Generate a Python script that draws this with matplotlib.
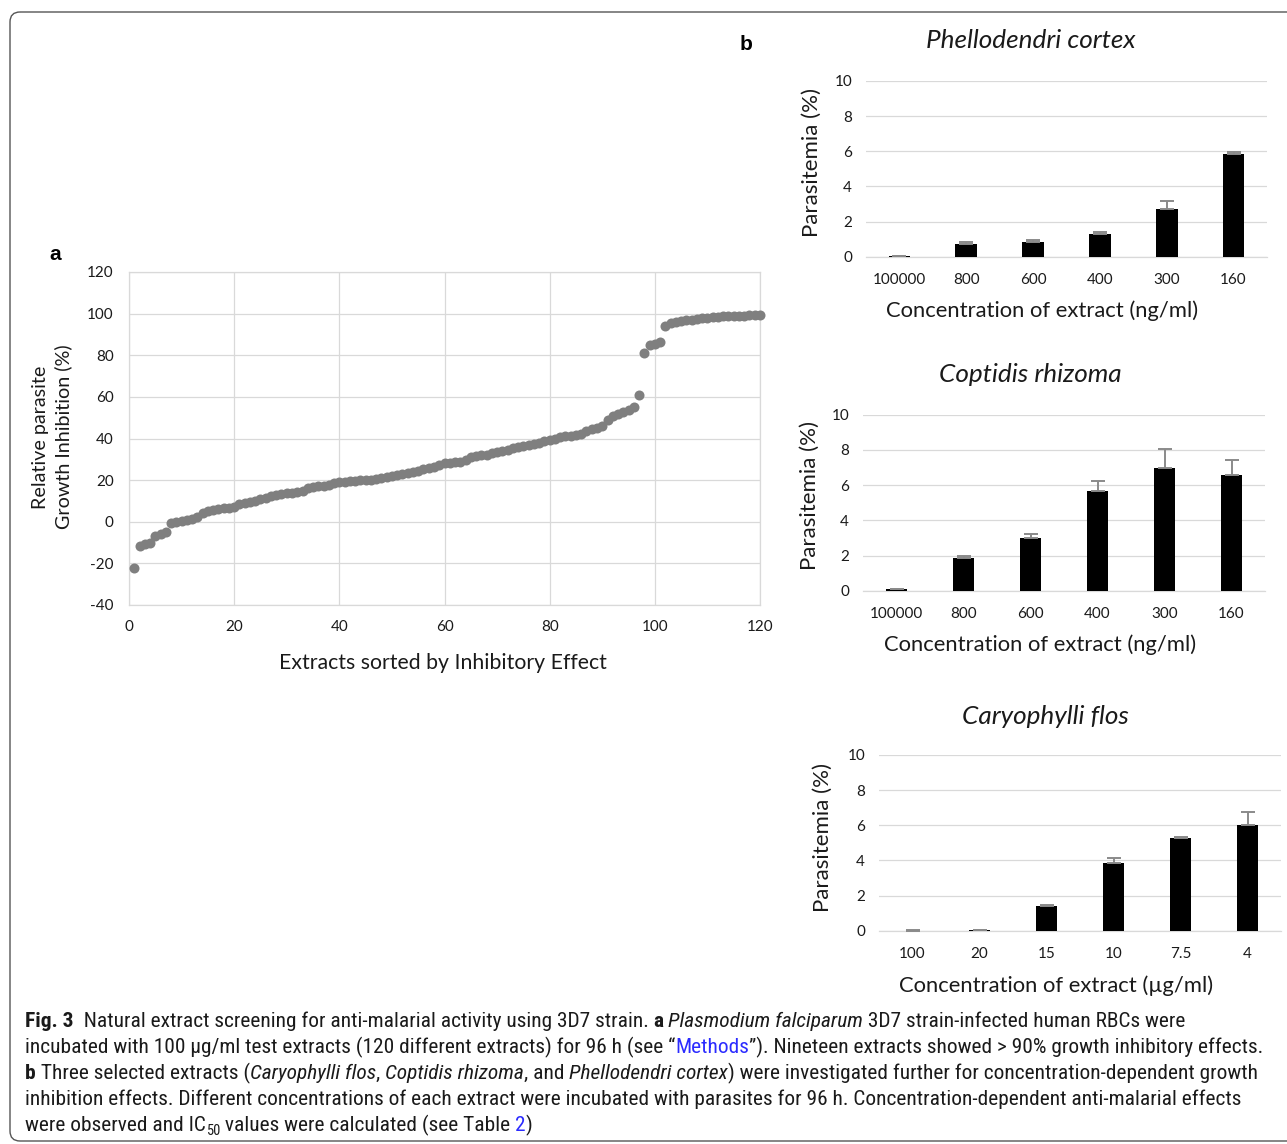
import matplotlib
matplotlib.use('Agg')
import matplotlib.pyplot as plt
from matplotlib.patches import FancyBboxPatch
from matplotlib.transforms import Affine2D
from matplotlib import font_manager
import numpy as np

W, H = 1287, 1144
plt.rcParams['font.family'] = ['Lato', 'DejaVu Sans']
plt.rcParams['axes.unicode_minus'] = False

# ---------------- data ----------------
extract_rank = list(range(1, 121))
inhibition = [
    -22, -11.5, -10.5, -10, -7, -6, -5, -0.5, 0, 0.5,
    1, 1.5, 2.5, 4, 5, 5.5, 6, 6.5, 6.8, 7,
    8.5, 9, 9.5, 10, 11, 11.5, 12.5, 13, 13.5, 13.8,
    14, 14.2, 15, 16, 16.5, 17, 17.3, 17.6, 18.5, 19,
    19.2, 19.5, 19.7, 20, 20.2, 20.3, 20.5, 21, 21.5, 22,
    22.5, 23, 23.2, 23.8, 24.5, 25.5, 26, 26.5, 27.5, 28,
    28.3, 28.5, 28.8, 29.5, 31, 31.5, 32, 32.3, 33, 33.5,
    34, 34.5, 35.5, 36, 36.5, 37, 37.5, 38, 39, 39.5,
    40, 40.5, 41, 41.3, 41.5, 42, 43.5, 44.5, 45, 46,
    49, 51, 52, 52.5, 53.5, 55, 61, 81, 85, 85.5,
    86.5, 94, 95.5, 96, 96.5, 97, 97, 97.5, 98, 98,
    98.5, 98.5, 98.7, 98.8, 98.9, 99, 99, 99.1, 99.2, 99.3,
]

ng_labels = ['100000', '800', '600', '400', '300', '160']
phell_mean = [0.04, 0.72, 0.84, 1.28, 2.71, 5.84]
phell_err = [0.02, 0.10, 0.11, 0.11, 0.48, 0.11]
copt_mean = [0.08, 1.84, 2.97, 5.68, 6.98, 6.58]
copt_err = [0.02, 0.12, 0.23, 0.57, 1.06, 0.86]
ug_labels = ['100', '20', '15', '10', '7.5', '4']
cary_mean = [0.01, 0.04, 1.41, 3.88, 5.28, 6.04]
cary_err = [0.01, 0.02, 0.08, 0.24, 0.08, 0.70]

# ---------------- figure ----------------
fig = plt.figure(figsize=(W / 100, H / 100), dpi=100)
pix = Affine2D().scale(1, -1).translate(0, H)


def px_axes(l, t, r, b):
    return fig.add_axes([l / W, 1 - b / H, (r - l) / W, (b - t) / H])


def ftext(x, y, s, **kw):
    return fig.text(x / W, 1 - y / H, s, **kw)


GRID = '#d9d9d9'
TXT = '#1a1a1a'

# border
frame = FancyBboxPatch((10, 12), 1320, 1129,
                       boxstyle='round,pad=0,rounding_size=10',
                       transform=pix, fill=False, edgecolor='#555555', lw=1.0)
fig.add_artist(frame)

# ---------------- panel a ----------------
ax = px_axes(129, 272, 760, 605)
ax.scatter(extract_rank, inhibition, s=52, color='#7f7f7f', linewidths=0,
           zorder=3, clip_on=False)
ax.set_xlim(0, 120)
ax.set_ylim(-40, 120)
ax.set_xticks(range(0, 121, 20))
ax.set_yticks(range(-40, 121, 20))
ax.grid(True, color=GRID, lw=0.9)
ax.set_axisbelow(True)
for s in ax.spines.values():
    s.set_color(GRID)
    s.set_linewidth(0.9)
ax.tick_params(length=0, labelsize=11, colors=TXT, pad=11)
ftext(443, 663, 'Extracts sorted by Inhibitory Effect', fontsize=15.3,
      ha='center', va='center', color=TXT)
ftext(52, 437, 'Relative parasite\nGrowth Inhibition (%)', fontsize=14.2,
      ha='center', va='center', rotation=90, linespacing=1.3, color=TXT)
ftext(55, 254, 'a', fontsize=15, fontweight='bold', ha='center', va='center',
      family=['Liberation Sans', 'DejaVu Sans'])
ftext(746, 44, 'b', fontsize=15, fontweight='bold', ha='center', va='center',
      family=['Liberation Sans', 'DejaVu Sans'])


# ---------------- panel b ----------------
def bar_panel(box, labels, means, errs, title, title_xy, xlabel, xlabel_y, ylabel_xy):
    l, t, r, b = box
    a = px_axes(l, t, r, b)
    x = np.arange(len(labels))
    a.bar(x, means, width=0.325, color='black', zorder=3)
    a.errorbar(x, means, yerr=[np.zeros(len(errs)), errs], fmt='none',
               ecolor='#8a8a8a', elinewidth=1.4, capsize=5, capthick=1.4, zorder=4)
    a.set_xlim(-0.5, len(labels) - 0.5)
    a.set_ylim(0, 10)
    a.set_yticks(range(0, 11, 2))
    a.yaxis.grid(True, color=GRID, lw=0.9)
    a.set_axisbelow(True)
    for k, s in a.spines.items():
        s.set_visible(k == 'bottom')
    a.spines['bottom'].set_color(GRID)
    a.spines['bottom'].set_linewidth(0.9)
    a.set_xticks(x, labels)
    a.tick_params(axis='y', length=0, labelsize=11, colors=TXT, pad=10)
    a.tick_params(axis='x', length=0, labelsize=11, colors=TXT, pad=12)
    ftext(title_xy[0], title_xy[1], title, fontsize=18.8, fontstyle='italic',
          ha='center', va='center', color=TXT)
    ftext((l + r) / 2 - 24, xlabel_y, xlabel, fontsize=15.8, ha='center', va='center', color=TXT)
    ftext(ylabel_xy[0], ylabel_xy[1], 'Parasitemia (%)', fontsize=16, rotation=90,
          ha='center', va='center', color=TXT)
    return a


bar_panel((866, 81, 1267, 256.7), ng_labels, phell_mean, phell_err,
          'Phellodendri cortex', (1031, 41), 'Concentration of extract (ng/ml)', 311,
          (812, 162))
bar_panel((863, 414.7, 1265, 590.7), ng_labels, copt_mean, copt_err,
          'Coptidis rhizoma', (1030, 375), 'Concentration of extract (ng/ml)', 645,
          (810, 496))
bar_panel((879, 755, 1281, 930.7), ug_labels, cary_mean, cary_err,
          'Caryophylli flos', (1045, 716), 'Concentration of extract (µg/ml)', 986,
          (823, 838))

# ---------------- caption ----------------
avail = {f.name for f in font_manager.fontManager.ttflist}
cap_family = 'Lato'
for cand in ['Roboto Condensed', 'Open Sans Condensed', 'Liberation Sans Narrow']:
    if cand in avail:
        cap_family = cand
        break

renderer = fig.canvas.get_renderer()


def run_kw(style, size):
    tags = style.split()
    kw = dict(fontsize=size, family=[cap_family, 'DejaVu Sans'], color=TXT)
    if 'bold' in tags:
        kw['fontweight'] = 'bold'
    if 'ital' in tags:
        kw['fontstyle'] = 'italic'
    if 'link' in tags:
        kw['color'] = '#2b2bff'
    if 'sub' in tags:
        kw['fontsize'] = size * 0.68
    return kw


def measure(s, kw):
    t1 = fig.text(0, 0, s + '|', **kw)
    t2 = fig.text(0, 0, '|', **kw)
    w = t1.get_window_extent(renderer).width - t2.get_window_extent(renderer).width
    t1.remove()
    t2.remove()
    return w


def draw_runs(x0, y, runs, size, draw=True):
    x = x0
    for s, style in runs:
        kw = run_kw(style, size)
        yy = y + (4 if 'sub' in style.split() else 0)
        if draw:
            ftext(x, yy, s, ha='left', va='baseline', **kw)
        x += measure(s, kw)
    return x - x0


lines = [
    [('Fig. 3', 'bold'), ('  Natural extract screening for anti-malarial activity using 3D7 strain. ', ''),
     ('a', 'bold'), (' ', ''), ('Plasmodium falciparum', 'ital'),
     (' 3D7 strain-infected human RBCs were', '')],
    [('incubated with 100 µg/ml test extracts (120 different extracts) for 96 h (see \u201c', ''),
     ('Methods', 'link'), ('\u201d). Nineteen extracts showed > 90% growth inhibitory effects.', '')],
    [('b', 'bold'), (' Three selected extracts (', ''), ('Caryophylli flos', 'ital'), (', ', ''),
     ('Coptidis rhizoma', 'ital'), (', and ', ''), ('Phellodendri cortex', 'ital'),
     (') were investigated further for concentration-dependent growth', '')],
    [('inhibition effects. Different concentrations of each extract were incubated with parasites for 96 h. Concentration-dependent anti-malarial effects', '')],
    [('were observed and IC', ''), ('50', 'sub'), (' values were calculated (see Table ', ''),
     ('2', 'link'), (')', '')],
]

base = 12.0
w2 = draw_runs(25, 0, lines[1], base, draw=False)
cap_size = base * (1236 / w2)
baselines = [1027, 1053, 1079, 1105, 1131]
for ln, yb in zip(lines, baselines):
    draw_runs(25, yb, ln, cap_size)

fig.savefig('out.png', dpi=100)
